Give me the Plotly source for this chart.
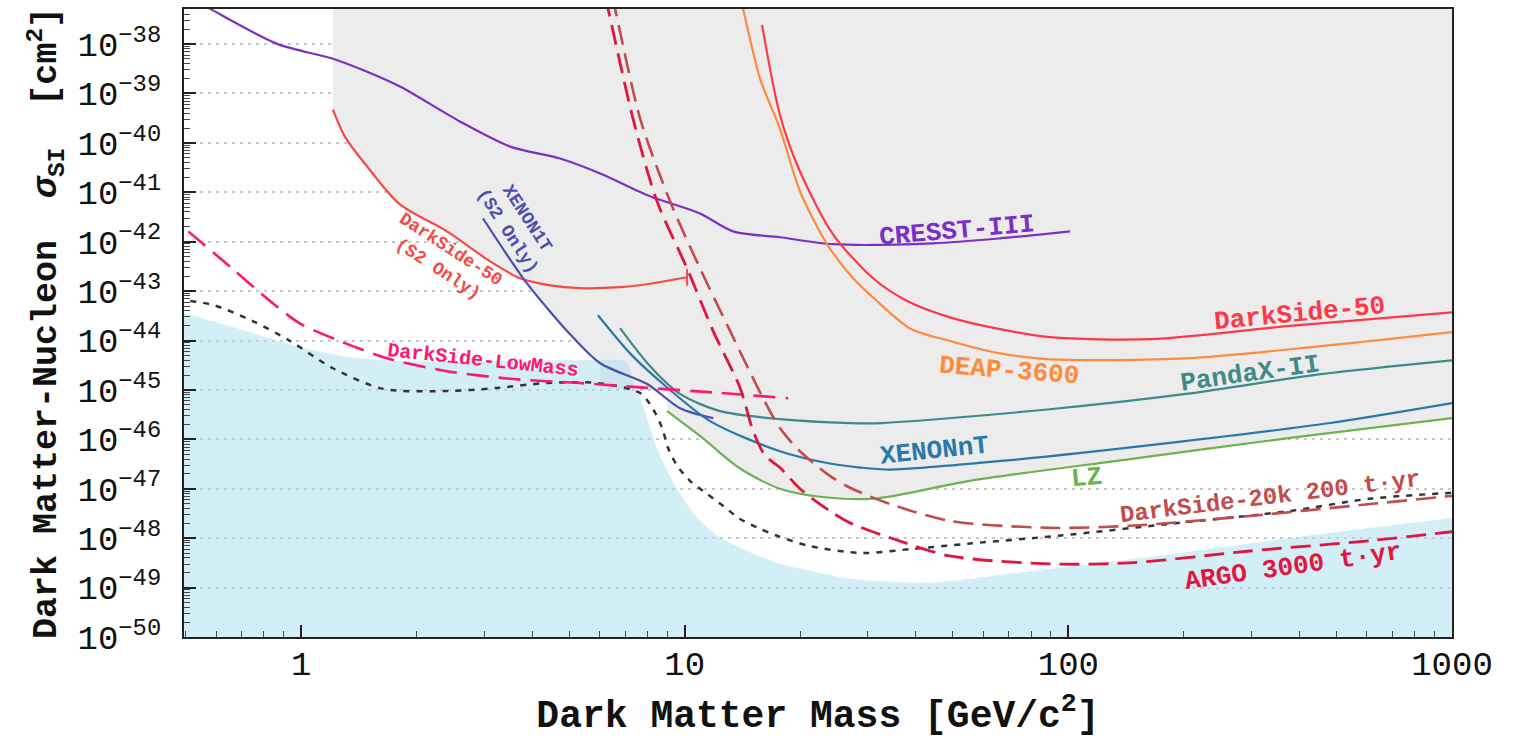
import math
import plotly.graph_objects as go

# ---------------- data (mass in GeV/c^2, cross-section in cm^2) ----------------
cresst_m = [0.53, 0.579, 0.866, 1.21, 1.486, 1.81, 2.60, 3.51, 4.73, 6.02, 8.12, 10.96, 13.36, 17.7, 24.35, 44.4, 66.3, 101]
cresst_s = [7.4e-38, 5.16e-38, 1.01e-38, 5.05e-39, 2.75e-39, 1.38e-39, 2.69e-40, 8.41e-41, 4.82e-41, 2.40e-41,
            8.3e-42, 3.72e-42, 1.62e-42, 1.23e-42, 8.9e-43, 9.3e-43, 1.17e-42, 1.62e-42]

ds50s2_m = [1.21, 1.30, 1.486, 1.81, 2.40, 3.11, 3.72, 4.46, 5.33, 6.78, 7.98, 10.14]
ds50s2_s = [4.71e-40, 1.34e-40, 3.32e-41, 5.68e-42, 1.62e-42, 4.0e-43, 1.82e-43, 1.31e-43, 1.15e-43, 1.20e-43, 1.38e-43, 1.91e-43]

xe1t_m = [2.98, 3.79, 4.38, 4.94, 6.02, 7.98, 9.72, 11.86]
xe1t_s = [2.95e-42, 1.82e-43, 4.52e-44, 1.55e-44, 3.47e-45, 1.32e-45, 4.27e-46, 2.69e-46]

dslm_m = [0.508, 0.665, 0.83, 0.994, 1.26, 1.675, 2.40, 3.57, 5.33, 7.98, 12.36, 18.6]
dslm_s = [1.62e-42, 2.75e-43, 6.3e-44, 2.2e-44, 9.8e-45, 4.37e-45, 2.40e-45, 1.66e-45, 1.38e-45, 1.10e-45, 8.7e-46, 6.8e-46]

nu_m = [0.514, 0.59, 0.75, 0.936, 1.21, 1.636, 2.40, 3.24, 4.38, 5.91, 7.65, 8.27, 8.73, 9.05, 9.55, 10.32, 11.43,
        12.58, 13.94, 15.71, 17.4, 21.2, 29.0, 38.66, 55.4, 94.0, 184, 378, 611, 1000]
nu_s = [6.3e-44, 5.25e-44, 2.45e-44, 9.8e-45, 2.75e-45, 1.05e-45, 9.5e-46, 1.10e-45, 1.38e-45, 1.38e-45, 8.7e-46,
        4.07e-46, 1.70e-46, 6.6e-47, 2.95e-47, 1.45e-47, 7.9e-48, 4.52e-48, 2.45e-48, 1.55e-48, 1.12e-48, 6.9e-49,
        5.0e-49, 6.0e-49, 7.8e-49, 1.12e-48, 1.95e-48, 3.55e-48, 6.3e-48, 8.3e-48]

fog_m = [0.495, 0.693, 0.994, 1.34, 1.81, 2.93, 5.33, 7.00, 7.20, 7.42, 7.65, 7.98, 8.47, 8.99, 9.72, 10.77, 12.36, 14.54,
         17.7, 26.97, 43.6, 89.5, 163, 297, 611, 1000]
fog_s = [3.55e-44, 1.70e-44, 7.3e-45, 4.57e-45, 3.8e-45, 3.8e-45, 3.98e-45, 3.8e-45, 2.6e-45, 1.10e-45, 6.8e-46, 2.69e-46,
         6.6e-47, 2.34e-47, 7.9e-48, 2.57e-48, 1.02e-48, 5.5e-49, 3.02e-49, 1.51e-49, 1.26e-49, 2.4e-49, 4.17e-49,
         7.8e-49, 1.62e-48, 2.57e-48]

lz_m = [8.99, 10.96, 13.94, 17.7, 22.5, 31.14, 55.4, 144.7, 378, 1000]
lz_s = [3.72e-46, 1.17e-46, 2.57e-47, 1.0e-47, 6.9e-48, 6.3e-48, 1.45e-47, 3.98e-47, 1.07e-46, 2.69e-46]

xnt_m = [5.94, 7.20, 8.78, 11.64, 17.7, 23.9, 28.64, 34.3, 70.4, 184, 481, 1000]
xnt_s = [3.24e-44, 5.5e-45, 1.32e-45, 2.34e-46, 5.75e-47, 3.24e-47, 2.69e-47, 2.45e-47, 3.8e-47, 8.5e-47, 2.14e-46, 5.4e-46]

pandax_m = [6.78, 8.12, 9.72, 12.36, 17.7, 26.97, 32.7, 89.5, 202.6, 455, 1000]
pandax_s = [1.78e-44, 3.02e-45, 8.3e-46, 3.72e-46, 2.57e-46, 2.14e-46, 2.14e-46, 4.07e-46, 8.3e-46, 2.09e-45, 3.98e-45]

ds50_m = [15.9, 17.7, 19.97, 24.35, 30.96, 38.0, 49.1, 66.3, 89.5, 165, 371, 1000]
ds50_s = [2.45e-38, 3.72e-40, 2.63e-41, 1.41e-42, 1.82e-43, 6.3e-44, 2.95e-44, 1.70e-44, 1.17e-44, 1.07e-44, 1.95e-44, 3.72e-44]

deap_m = [13.94, 14.19, 15.71, 17.7, 19.97, 23.5, 27.46, 31.7, 38.66, 49.1, 66.3, 89.5, 202.6, 455, 1000]
deap_s = [9.0e-38, 5.16e-38, 2.0e-39, 1.95e-40, 1.05e-41, 8.9e-43, 1.82e-43, 6.3e-44, 1.76e-44, 9.8e-45, 5.5e-45,
          4.17e-45, 4.37e-45, 7.7e-45, 1.48e-44]

argo_m = [6.2, 6.31, 7.33, 8.47, 10.14, 11.86, 13.94, 15.07, 16.2, 17.7, 19.97, 23.9, 26.97, 34.3, 49.1, 89.5, 144.7,
          297, 611, 1000]
argo_s = [9.0e-38, 5.16e-38, 3.09e-40, 6.5e-42, 2.88e-43, 1.55e-44, 1.10e-45, 1.48e-46, 4.7e-47, 2.69e-47, 1.0e-47,
          3.55e-48, 2.04e-48, 1.02e-48, 4.37e-49, 3.02e-49, 3.16e-49, 5.5e-49, 8.9e-49, 1.35e-48]

ds20k_m = [6.46, 6.58, 7.65, 9.16, 10.96, 13.13, 16.0, 17.7, 19.97, 23.9, 26.97, 34.3, 49.1, 89.5, 144.7, 297, 611, 1000]
ds20k_s = [9.0e-38, 5.16e-38, 3.09e-40, 6.5e-42, 2.88e-43, 1.55e-44, 6.8e-46, 1.70e-46, 5.75e-47, 1.82e-47, 1.05e-47,
           4.9e-48, 2.24e-48, 1.62e-48, 1.78e-48, 2.82e-48, 4.9e-48, 7.2e-48]

# excluded-region corner points (top of chart and the step between XENON1T and LZ)
excl_top = 1e-37
excl_step_m = [6.02, 8.99]
excl_step_s = [1.05e-45, 1.05e-45]
fog_floor = 1e-51

y_tick_exp = list(range(-50, -37))
x_tick_vals = [1, 10, 100, 1000]
x_tick_text = ["1", "10", "100", "1000"]

# ---------------- colours ----------------
C_CRESST = "#7a2fc6"
C_DS50 = "#ff3848"
C_DS50S2 = "#f44a44"
C_DEAP = "#ff8a3d"
C_PANDAX = "#3d8a86"
C_XNT = "#2a78a8"
C_XE1T = "#4d4dad"
C_LZ = "#6cb24e"
C_DSLM = "#ff1572"
C_ARGO = "#e0163e"
C_DS20K = "#c24c4c"
C_NU = "#333333"
C_GRAY = "#ececec"
C_FOG = "rgba(168,222,240,0.52)"

FONT = "Liberation Mono, Courier New, monospace"

fig = go.Figure()

# excluded (gray) region
gx = [ds50s2_m[0]] + ds50s2_m[:7] + [m for m in xe1t_m[1:5]] + excl_step_m + lz_m + [lz_m[-1], ds50s2_m[0]]
gy = [excl_top] + ds50s2_s[:7] + [s for s in xe1t_s[1:5]] + excl_step_s + lz_s + [excl_top, excl_top]
fig.add_trace(go.Scatter(x=gx, y=gy, mode="lines", fill="toself", fillcolor=C_GRAY,
                         line=dict(width=0, color=C_GRAY), hoverinfo="skip", showlegend=False))

# neutrino fog region (end points repeated so the smoothed outline keeps square corners)
fx = [fog_m[0]] + fog_m + [fog_m[-1], fog_m[-1], fog_m[-1], fog_m[0], fog_m[0]]
fy = [fog_s[0]] + fog_s + [fog_s[-1], fog_floor, fog_floor, fog_floor, fog_floor]
fig.add_trace(go.Scatter(x=fx, y=fy, mode="lines", fill="toself", fillcolor=C_FOG,
                         line=dict(width=0, color=C_FOG, shape="spline", smoothing=0.6),
                         hoverinfo="skip", showlegend=False))


def curve(xs, ys, color, width=2.2, dash="solid"):
    fig.add_trace(go.Scatter(x=xs, y=ys, mode="lines", showlegend=False, hoverinfo="skip",
                             line=dict(color=color, width=width, dash=dash, shape="spline", smoothing=0.8)))


curve(cresst_m, cresst_s, C_CRESST)
curve(ds50s2_m, ds50s2_s, C_DS50S2)
curve(xe1t_m, xe1t_s, C_XE1T)
curve(ds50_m, ds50_s, C_DS50)
curve(deap_m, deap_s, C_DEAP)
curve(pandax_m, pandax_s, C_PANDAX)
curve(xnt_m, xnt_s, C_XNT)
curve(lz_m, lz_s, C_LZ)
curve(nu_m, nu_s, C_NU, width=2.5, dash="6px,7px")
curve(dslm_m, dslm_s, C_DSLM, width=2.6, dash="22px,10px")
curve(ds20k_m, ds20k_s, C_DS20K, width=2.6, dash="20px,9px")
curve(argo_m, argo_s, C_ARGO, width=2.8, dash="20px,9px")

# end tick of the DarkSide-50 S2 curve
fig.add_trace(go.Scatter(x=[ds50s2_m[-1]], y=[ds50s2_s[-1]], mode="markers", showlegend=False, hoverinfo="skip",
                         marker=dict(symbol="line-ns", size=12, line=dict(color=C_DS50S2, width=2))))

# ---------------- labels ----------------
labels = [
    ("CRESST-III", 51.3, 1.62e-42, -5, 26, C_CRESST),
    ("DarkSide-50", 401, 3.39e-44, -5.5, 26, C_DS50),
    ("DEAP-3600", 70.0, 2.4e-45, 4.5, 26, C_DEAP),
    ("PandaX-II", 297, 2.09e-45, -8, 26, C_PANDAX),
    ("XENONnT", 44.9, 5.75e-47, -6, 26, C_XNT),
    ("LZ", 111.8, 1.66e-47, -5, 26, C_LZ),
    ("DarkSide-20k 200 t·yr", 335, 6.6e-48, -7, 24, C_DS20K),
    ("ARGO 3000 t·yr", 385, 2.63e-49, -8, 26, C_ARGO),
    ("DarkSide-LowMass", 2.98, 3.98e-45, 6, 20, C_DSLM),
    ("DarkSide-50<br>(S2 Only)", 2.37, 4.37e-43, 33, 18, C_DS50S2),
    ("XENON1T<br>(S2 Only)", 3.66, 2.24e-42, 57, 18, C_XE1T),
]
for txt, m, s, ang, size, col in labels:
    fig.add_annotation(x=math.log10(m), y=math.log10(s), xref="x", yref="y", text=txt, showarrow=False,
                       textangle=ang, xanchor="center", yanchor="middle",
                       font=dict(family=FONT, size=size, color=col, weight="bold"))

# ---------------- axes ----------------
x_minor = [k * 10 ** d for d in range(-1, 3) for k in range(2, 10) if 0.5 <= k * 10 ** d <= 1000]
y_minor = [k * 10.0 ** d for d in range(-50, -37) for k in range(2, 10)]

fig.update_xaxes(type="log", range=[math.log10(0.495), 3.0],
                 tickmode="array", tickvals=x_tick_vals, ticktext=x_tick_text,
                 ticks="inside", ticklen=12, tickwidth=1.5, tickcolor="#222",
                 minor=dict(tickmode="array", tickvals=x_minor, ticks="inside", ticklen=6, tickwidth=1, tickcolor="#444",
                            showgrid=False),
                 showgrid=False, zeroline=False,
                 showline=True, linecolor="#222", linewidth=2, mirror=True,
                 tickfont=dict(family=FONT, size=34, color="#111"), ticklabelstandoff=-5,
                 title=dict(text="Dark Matter Mass [GeV/c<sup>2</sup>]", standoff=20,
                            font=dict(family=FONT, size=38, color="#111", weight="bold")))

fig.update_yaxes(type="log", range=[-50, -37.29],
                 tickmode="array", tickvals=[10.0 ** e for e in y_tick_exp],
                 ticktext=["10<sup>\u2212%d</sup>" % (-e) for e in y_tick_exp],
                 ticks="inside", ticklen=12, tickwidth=1.5, tickcolor="#222",
                 minor=dict(tickmode="array", tickvals=y_minor, ticks="inside", ticklen=6, tickwidth=1, tickcolor="#444",
                            showgrid=False),
                 showgrid=True, gridcolor="#c8c8c8", gridwidth=2, griddash="3px,5px", zeroline=False,
                 showline=True, linecolor="#222", linewidth=2, mirror=True,
                 tickfont=dict(family=FONT, size=34, color="#111"), ticklabelstandoff=14,
                 title=dict(text="Dark Matter-Nucleon\u00a0\u00a0<i>\u03c3</i><sub>SI</sub>\u00a0\u00a0[cm<sup>2</sup>]",
                            standoff=10, font=dict(family=FONT, size=35, color="#111", weight="bold")))

fig.update_layout(width=1519, height=738, margin=dict(l=184, r=67, t=7, b=101),
                  plot_bgcolor="white", paper_bgcolor="white", showlegend=False)

fig.write_html("out.html")
